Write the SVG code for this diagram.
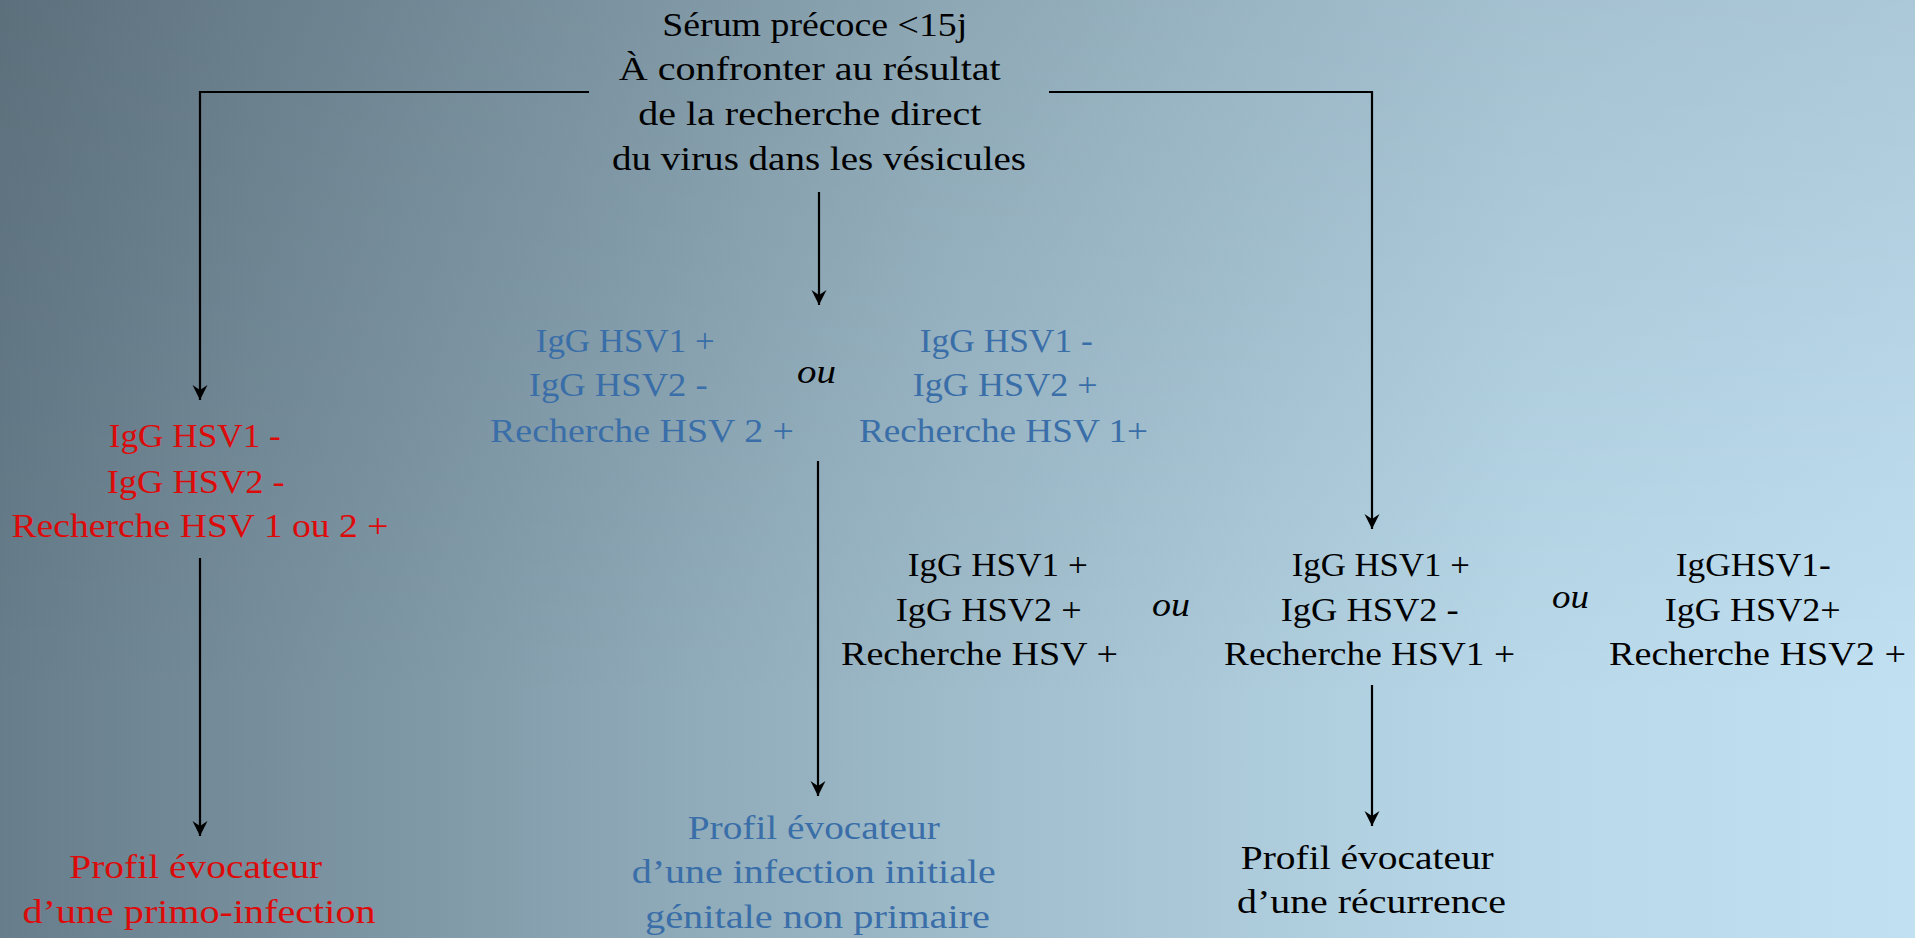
<svg xmlns="http://www.w3.org/2000/svg" width="1915" height="938" viewBox="0 0 1915 938">
<defs>
<linearGradient id="bg" x1="0" y1="0" x2="1915" y2="0" gradientUnits="userSpaceOnUse">
<stop offset="0" stop-color="#677d8b"/>
<stop offset="0.5" stop-color="#9fbccb"/>
<stop offset="0.8" stop-color="#b9d9ea"/>
<stop offset="1" stop-color="#c1e1f3"/>
</linearGradient>
<linearGradient id="shade" x1="0" y1="0" x2="0" y2="938" gradientUnits="userSpaceOnUse">
<stop offset="0" stop-color="#000" stop-opacity="0.11"/>
<stop offset="0.75" stop-color="#000" stop-opacity="0"/>
</linearGradient>
<marker id="arr" viewBox="-16 -8 17 16" refX="0" refY="0" markerWidth="17" markerHeight="16" markerUnits="userSpaceOnUse" orient="auto">
<path d="M0,0 L-15,-7.5 L-10,0 L-15,7.5 Z" fill="#000"/>
</marker>
<style>
.t{font-family:"Liberation Serif","DejaVu Serif",serif;font-size:34px;text-anchor:middle}
.k{fill:#000}
.r{fill:#dd0a0a}
.b{fill:#3a6ea8}
.i{font-style:italic}
.c{fill:none;stroke:#000;stroke-width:2.2}
</style>
</defs>
<rect width="1915" height="938" fill="url(#bg)"/>
<rect width="1915" height="938" fill="url(#shade)"/>

<g id="connectors">
<polyline class="c" points="589,92 200,92 200,400" marker-end="url(#arr)"/>
<polyline class="c" points="1049,92 1372,92 1372,529" marker-end="url(#arr)"/>
<line class="c" x1="819" y1="192" x2="819" y2="305" marker-end="url(#arr)"/>
<line class="c" x1="818" y1="461" x2="818" y2="796" marker-end="url(#arr)"/>
<line class="c" x1="200" y1="558" x2="200" y2="836" marker-end="url(#arr)"/>
<line class="c" x1="1372" y1="685" x2="1372" y2="826" marker-end="url(#arr)"/>
</g>

<g id="n-top">
<text class="t k">
<tspan x="819" y="36" textLength="305" lengthAdjust="spacingAndGlyphs">Sérum précoce &lt;15j</tspan>
<tspan x="814" y="80" textLength="382" lengthAdjust="spacingAndGlyphs">À confronter au résultat</tspan>
<tspan x="814" y="125" textLength="343" lengthAdjust="spacingAndGlyphs">de la recherche direct</tspan>
<tspan x="819" y="170" textLength="414" lengthAdjust="spacingAndGlyphs">du virus dans les vésicules</tspan>
</text>
</g>

<g id="n-blue-left">
<text class="t b">
<tspan x="629.5" y="352" textLength="179" lengthAdjust="spacingAndGlyphs">IgG HSV1 +</tspan>
<tspan x="622.5" y="396" textLength="179" lengthAdjust="spacingAndGlyphs">IgG HSV2 -</tspan>
<tspan x="642" y="442" textLength="304" lengthAdjust="spacingAndGlyphs">Recherche HSV 2 +</tspan>
</text>
</g>

<g id="ou-1"><text class="t k i" x="816.5" y="383" textLength="39" lengthAdjust="spacingAndGlyphs">ou</text></g>

<g id="n-blue-right">
<text class="t b">
<tspan x="1010.5" y="352" textLength="173" lengthAdjust="spacingAndGlyphs">IgG HSV1 -</tspan>
<tspan x="1009.5" y="396" textLength="185" lengthAdjust="spacingAndGlyphs">IgG HSV2 +</tspan>
<tspan x="1003.5" y="442" textLength="289" lengthAdjust="spacingAndGlyphs">Recherche HSV 1+</tspan>
</text>
</g>

<g id="n-red">
<text class="t r">
<tspan x="199" y="447" textLength="172" lengthAdjust="spacingAndGlyphs">IgG HSV1 -</tspan>
<tspan x="200" y="493" textLength="178" lengthAdjust="spacingAndGlyphs">IgG HSV2 -</tspan>
<tspan x="200" y="537" textLength="377" lengthAdjust="spacingAndGlyphs">Recherche HSV 1 ou 2 +</tspan>
</text>
</g>

<g id="n-black-a">
<text class="t k">
<tspan x="1002" y="576" textLength="180" lengthAdjust="spacingAndGlyphs">IgG HSV1 +</tspan>
<tspan x="993" y="621" textLength="186" lengthAdjust="spacingAndGlyphs">IgG HSV2 +</tspan>
<tspan x="979.5" y="665" textLength="277" lengthAdjust="spacingAndGlyphs">Recherche HSV +</tspan>
</text>
</g>

<g id="ou-2"><text class="t k i" x="1171" y="616" textLength="38" lengthAdjust="spacingAndGlyphs">ou</text></g>

<g id="n-black-b">
<text class="t k">
<tspan x="1385" y="576" textLength="178" lengthAdjust="spacingAndGlyphs">IgG HSV1 +</tspan>
<tspan x="1374" y="621" textLength="178" lengthAdjust="spacingAndGlyphs">IgG HSV2 -</tspan>
<tspan x="1369.5" y="665" textLength="291" lengthAdjust="spacingAndGlyphs">Recherche HSV1 +</tspan>
</text>
</g>

<g id="ou-3"><text class="t k i" x="1570.5" y="608" textLength="37" lengthAdjust="spacingAndGlyphs">ou</text></g>

<g id="n-black-c">
<text class="t k">
<tspan x="1757.5" y="576" textLength="155" lengthAdjust="spacingAndGlyphs">IgGHSV1-</tspan>
<tspan x="1757" y="621" textLength="176" lengthAdjust="spacingAndGlyphs">IgG HSV2+</tspan>
<tspan x="1757.5" y="665" textLength="297" lengthAdjust="spacingAndGlyphs">Recherche HSV2 +</tspan>
</text>
</g>

<g id="n-primo">
<text class="t r">
<tspan x="200" y="878" textLength="253" lengthAdjust="spacingAndGlyphs">Profil évocateur</tspan>
<tspan x="199" y="923" textLength="353" lengthAdjust="spacingAndGlyphs">d’une primo-infection</tspan>
</text>
</g>

<g id="n-initiale">
<text class="t b">
<tspan x="818" y="839" textLength="252" lengthAdjust="spacingAndGlyphs">Profil évocateur</tspan>
<tspan x="818" y="883" textLength="364" lengthAdjust="spacingAndGlyphs">d’une infection initiale</tspan>
<tspan x="817.5" y="928" textLength="345" lengthAdjust="spacingAndGlyphs">génitale non primaire</tspan>
</text>
</g>

<g id="n-recurrence">
<text class="t k">
<tspan x="1371.5" y="869" textLength="253" lengthAdjust="spacingAndGlyphs">Profil évocateur</tspan>
<tspan x="1371.5" y="913" textLength="269" lengthAdjust="spacingAndGlyphs">d’une récurrence</tspan>
</text>
</g>
</svg>
